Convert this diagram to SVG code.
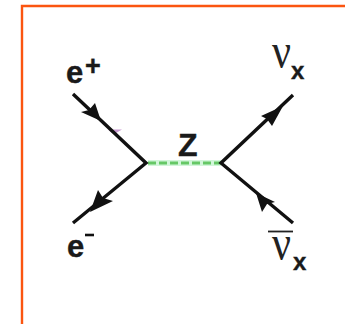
<svg xmlns="http://www.w3.org/2000/svg" width="345" height="324" viewBox="0 0 345 324">
<style>
.l{stroke:#111;stroke-width:3.4;fill:none}
.a{fill:#111}
.s{font-family:"Liberation Sans",Arial,sans-serif;font-weight:bold;fill:#1a1a1a;stroke:#1a1a1a;stroke-width:.4}
.n{font-family:"Liberation Serif","Times New Roman",serif;fill:#222}
</style>
<rect width="345" height="324" fill="#fff"/>
<path d="M22 324V6H345" fill="none" stroke="#fb5510" stroke-width="2.400"/>
<path d="M108 129.500H122L116 133H112Z" fill="#c79ad0"/>
<g id="connectors">
<path d="M148 163H221" stroke="#d2f6da" stroke-width="6" fill="none"/>
<path d="M148 163H221" stroke="#66c866" stroke-width="2.800" stroke-dasharray="8 3" fill="none"/>
<path class="l" d="M73 94L146 163L73 223"/>
<path class="l" d="M293 95L221 163L293 223"/>
<path class="a" d="M101 121L81 112L89 110L95 103Z"/>
<path class="a" d="M90 212L98 190L103 198L113 201Z"/>
<path class="a" d="M283 106L272 126L267 119L261 116Z"/>
<path class="a" d="M256 193L275 202L267 204L262 212Z"/>
</g>
<g id="e-plus"><text class="s" x="66" y="83" font-size="31">e</text><text class="s" x="85" y="75" font-size="27">+</text></g>
<g id="e-minus"><text class="s" x="67" y="257" font-size="31">e</text><path d="M85 235H94" stroke="#111" stroke-width="2.600"/></g>
<g id="z"><text class="s" x="178" y="156" font-size="32">Z</text></g>
<g id="nu"><text class="n" x="272" y="68" font-size="50" textLength="19" lengthAdjust="spacingAndGlyphs">ν</text><text class="s" x="291" y="79" font-size="24">x</text></g>
<g id="nu-bar"><path d="M268 231.500H293" stroke="#222" stroke-width="1.800"/><text class="n" x="272" y="260" font-size="50" textLength="19" lengthAdjust="spacingAndGlyphs">ν</text><text class="s" x="293" y="270" font-size="24">x</text></g>
</svg>
